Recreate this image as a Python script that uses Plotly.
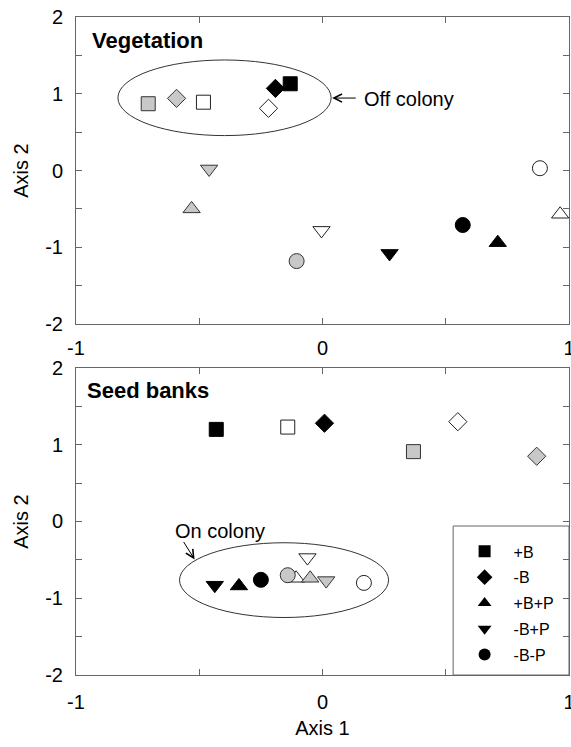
import plotly.graph_objects as go

# ---------------- data ----------------
treatments = ["+B", "-B", "+B+P", "-B+P", "-B-P"]
symbols = ["square", "diamond", "triangle-up", "triangle-down", "circle"]

# Vegetation panel (order of treatments as above)
veg_black_x = [-0.131, -0.191, 0.711, 0.272, 0.569]
veg_black_y = [1.13, 1.07, -0.94, -1.08, -0.71]
veg_white_x = [-0.483, -0.219, 0.964, -0.004, 0.882]
veg_white_y = [0.89, 0.81, -0.57, -0.78, 0.03]
veg_gray_x = [-0.707, -0.592, -0.531, -0.460, -0.105]
veg_gray_y = [0.87, 0.94, -0.50, 0.02, -1.18]

# Seed bank panel
seed_black_x = [-0.431, 0.008, -0.339, -0.437, -0.250]
seed_black_y = [1.20, 1.28, -0.84, -0.83, -0.76]
seed_white_x = [-0.141, 0.549, -0.107, -0.061, 0.168]
seed_white_y = [1.23, 1.30, -0.74, -0.47, -0.80]
seed_gray_x = [0.369, 0.869, -0.050, 0.015, -0.141]
seed_gray_y = [0.91, 0.85, -0.74, -0.77, -0.70]

axis_ticks = [-1, -0.5, 0, 0.5, 1]
axis_ticktext = ["-1", "", "0", "", "1"]
yaxis_ticks = [-2, -1.5, -1, -0.5, 0, 0.5, 1, 1.5, 2]
yaxis_ticktext = ["-2", "", "-1", "", "0", "", "1", "", "2"]

# ---------------- styling ----------------
FONT = "Arial, Liberation Sans, Helvetica, sans-serif"
FILLS = {"white": "#ffffff", "gray": "#c8c8c8", "black": "#000000"}
EDGE = {"white": "#222222", "gray": "#333333", "black": "#000000"}
SIZES = {"square": 14, "diamond": 14, "triangle-up": 15,
         "triangle-down": 15, "circle": 15}

fig = go.Figure()

panels = [
    ("x", "y", {"white": (veg_white_x, veg_white_y),
                "gray": (veg_gray_x, veg_gray_y),
                "black": (veg_black_x, veg_black_y)}),
    ("x2", "y2", {"white": (seed_white_x, seed_white_y),
                  "gray": (seed_gray_x, seed_gray_y),
                  "black": (seed_black_x, seed_black_y)}),
]

for xa, ya, groups in panels:
    for grp in ["white", "gray", "black"]:
        gx, gy = groups[grp]
        for i, t in enumerate(treatments):
            sym = symbols[i]
            fig.add_trace(go.Scatter(
                x=[gx[i]], y=[gy[i]], xaxis=xa, yaxis=ya, mode="markers",
                name=t, legendgroup=t, showlegend=False, cliponaxis=False,
                marker=dict(symbol=sym, size=SIZES[sym], color=FILLS[grp],
                            line=dict(color=EDGE[grp], width=1)),
                hovertemplate=f"{t} ({grp})<br>Axis 1: %{{x}}<br>Axis 2: %{{y}}<extra></extra>",
            ))

# legend-only entries (black symbols)
for i, t in enumerate(treatments):
    fig.add_trace(go.Scatter(
        x=[None], y=[None], xaxis="x2", yaxis="y2", mode="markers",
        name=t, legendgroup=t, showlegend=True,
        marker=dict(symbol=symbols[i], size=12, color="#000000",
                    line=dict(color="#000000", width=0)),
    ))

axis_common = dict(
    showgrid=False, zeroline=False, showline=True, linecolor="#666666",
    linewidth=1, mirror="ticks", ticks="inside", ticklen=6, automargin=False,
    ticklabeloverflow="allow",
    tickcolor="#666666", tickfont=dict(family=FONT, size=20, color="#000"),
)
TFONT = dict(family=FONT, size=20, color="#000")

fig.update_layout(
    width=571, height=747,
    margin=dict(l=76, r=2, t=17, b=72),
    paper_bgcolor="white", plot_bgcolor="white",
    font=dict(family=FONT, color="#000"),
    xaxis=dict(domain=[0, 1], anchor="y", range=[-1, 1],
               tickvals=axis_ticks, ticktext=axis_ticktext,
               ticklabelstandoff=6, **axis_common),
    yaxis=dict(domain=[0.5334, 1], anchor="x", range=[-2, 2],
               tickvals=yaxis_ticks, ticktext=yaxis_ticktext,
               ticklabelstandoff=8,
               title=dict(text="Axis 2", font=TFONT, standoff=11),
               **axis_common),
    xaxis2=dict(domain=[0, 1], anchor="y2", range=[-1, 1],
                tickvals=axis_ticks, ticktext=axis_ticktext,
                ticklabelstandoff=9,
                title=dict(text="Axis 1", font=TFONT, standoff=8),
                **axis_common),
    yaxis2=dict(domain=[0, 0.4666], anchor="x2", range=[-2, 2],
                tickvals=yaxis_ticks, ticktext=yaxis_ticktext,
                ticklabelstandoff=8,
                title=dict(text="Axis 2", font=TFONT, standoff=11),
                **axis_common),
    showlegend=True,
    legend=dict(x=0.77, y=0.2136, xanchor="left", yanchor="top",
                bgcolor="rgba(0,0,0,0)", borderwidth=0,
                font=dict(family=FONT, size=16, color="#000"),
                itemwidth=48, tracegroupgap=2, itemclick=False),
)

shapes = [
    # ellipse: off colony (vegetation)
    dict(type="circle", xref="x", yref="y", x0=-0.830, x1=0.035, y0=0.455, y1=1.44,
         line=dict(color="#333333", width=1)),
    # ellipse: on colony (seed banks)
    dict(type="circle", xref="x2", yref="y2", x0=-0.580, x1=0.268, y0=-1.251, y1=-0.277,
         line=dict(color="#333333", width=1)),
    # legend frame
    dict(type="rect", xref="paper", yref="paper", x0=0.765, x1=1.0, y0=0.0, y1=0.2264,
         line=dict(color="#666666", width=1)),
]
fig.update_layout(shapes=shapes)

annotations = [
    dict(text="<b>Vegetation</b>", xref="x domain", yref="y domain", x=0.028, y=0.925,
         xanchor="left", yanchor="middle", showarrow=False,
         font=dict(family=FONT, size=22, color="#000")),
    dict(text="<b>Seed banks</b>", xref="x2 domain", yref="y2 domain", x=0.018, y=0.928,
         xanchor="left", yanchor="middle", showarrow=False,
         font=dict(family=FONT, size=22, color="#000")),
    dict(text="Off colony", xref="x", yref="y", x=0.161, y=0.935,
         xanchor="left", yanchor="middle", showarrow=False,
         font=dict(family=FONT, size=20, color="#000")),
    dict(text="", xref="x", yref="y", x=0.039, y=0.944, ax=0.141, ay=0.944,
         axref="x", ayref="y", showarrow=True, arrowhead=5, arrowsize=1.6,
         arrowwidth=1, arrowcolor="#000"),
    dict(text="On colony", xref="x2", yref="y2", x=-0.414, y=-0.126,
         xanchor="center", yanchor="middle", showarrow=False,
         font=dict(family=FONT, size=20, color="#000")),
    dict(text="", xref="x2", yref="y2", x=-0.519, y=-0.494, ax=-0.567, ay=-0.247,
         axref="x2", ayref="y2", showarrow=True, arrowhead=5, arrowsize=1.6,
         arrowwidth=1, arrowcolor="#000"),
]
fig.update_layout(annotations=annotations)

fig.write_html("out.html", config={"displayModeBar": False},
               post_script="document.body.style.margin='0';document.body.style.overflow='hidden';")
